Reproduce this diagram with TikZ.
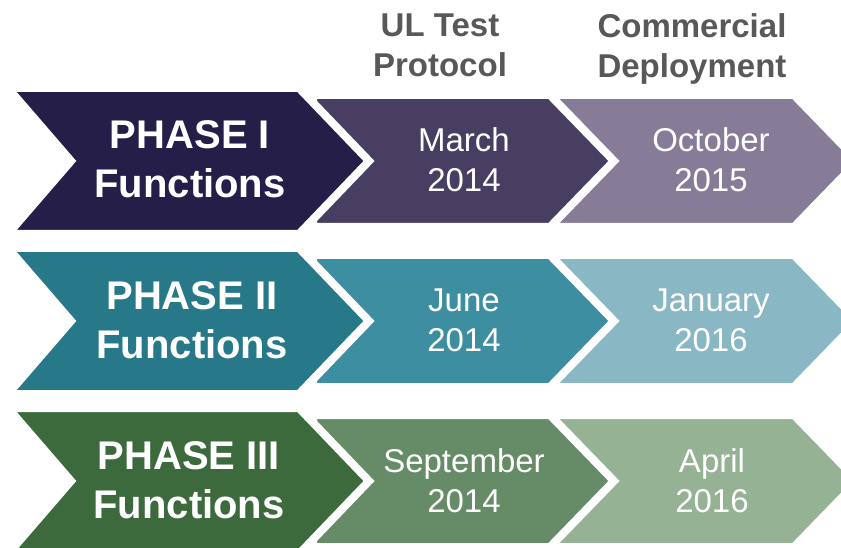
\documentclass[tikz,border=0pt]{standalone}
\usepackage{fontspec}
\setmainfont{Liberation Sans}
\definecolor{rAa}{RGB}{36,30,72}
\definecolor{rAb}{RGB}{72,62,98}
\definecolor{rAc}{RGB}{134,124,152}
\definecolor{rBa}{RGB}{39,120,137}
\definecolor{rBb}{RGB}{62,142,162}
\definecolor{rBc}{RGB}{137,184,196}
\definecolor{rCa}{RGB}{61,106,60}
\definecolor{rCb}{RGB}{102,139,103}
\definecolor{rCc}{RGB}{150,178,148}
\definecolor{headgray}{RGB}{88,88,88}
\tikzset{
  chev/.style={draw=white, line width=8pt, line join=miter},
  biglabel/.style={text=white, font=\fontsize{40}{49}\selectfont\bfseries, align=center, inner sep=0pt},
  datelabel/.style={text=white, font=\fontsize{33}{40}\selectfont, align=center, inner sep=0pt},
  headlabel/.style={text=headgray, font=\fontsize{33}{40}\selectfont\bfseries, align=center, inner sep=0pt}
}
\newcommand\chevrowdraw[3]{%
  \fill[chev, fill=#3] (556,95) -- (794,95) -- (858,161) -- (794,227) -- (556,227) -- cycle;
  \fill[chev, fill=#2] (313,95) -- (550,95) -- (614,161) -- (550,227) -- (313,227) -- cycle;
  \fill[chev, fill=#1] (8,88) -- (299,88) -- (369,161) -- (299,234) -- (8,234) -- (71,161) -- cycle;
}
\begin{document}
\begin{tikzpicture}[x=1pt,y=-1pt]
\useasboundingbox (0,0) rectangle (841,548);
\clip (0,0) rectangle (841,548);
\node[headlabel] (h1) at (440,45) {UL Test\\Protocol};
\node[headlabel] (h2) at (692,48.5) {Commercial\\Deployment};
\begin{scope}
  \chevrowdraw{rAa}{rAb}{rAc}
  \node[biglabel] (p1) at (190,159) {PHASE I\\Functions};
  \node[datelabel] (d11) at (464,160) {March\\2014};
  \node[datelabel] (d12) at (711,160) {October\\2015};
\end{scope}
\begin{scope}[yshift=-160pt]
  \chevrowdraw{rBa}{rBb}{rBc}
  \node[biglabel] (p2) at (192,160) {PHASE II\\Functions};
  \node[datelabel] (d21) at (464,160) {June\\2014};
  \node[datelabel] (d22) at (711,160) {January\\2016};
\end{scope}
\begin{scope}[yshift=-320pt]
  \chevrowdraw{rCa}{rCb}{rCc}
  \node[biglabel] (p3) at (189,160) {PHASE III\\Functions};
  \node[datelabel] (d31) at (464,161) {September\\2014};
  \node[datelabel] (d32) at (712,161) {April\\2016};
\end{scope}
\end{tikzpicture}
\end{document}
